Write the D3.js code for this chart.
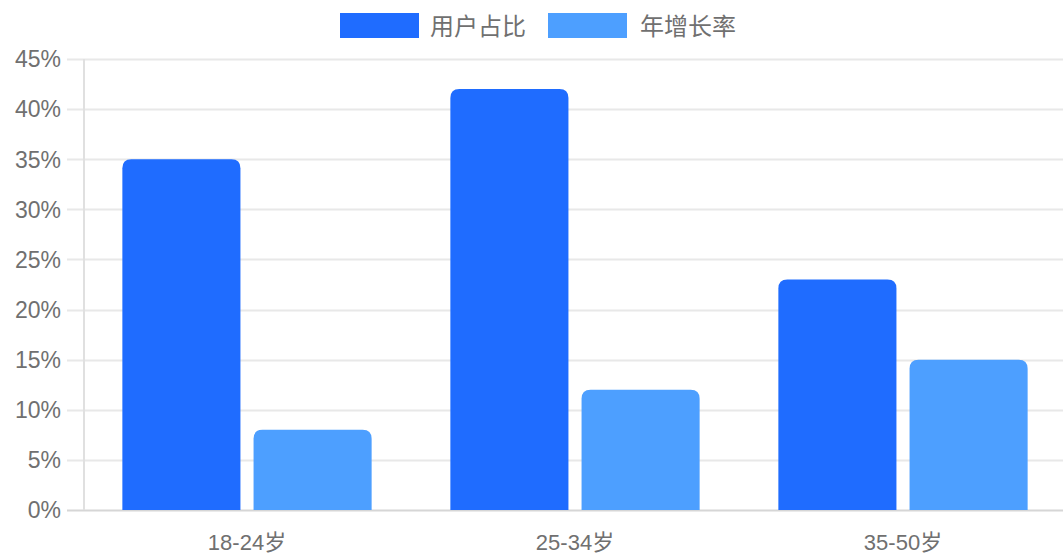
<!DOCTYPE html>
<html>
<head>
<meta charset="utf-8">
<script src="https://cdn.jsdelivr.net/npm/d3@7"></script>
<style>
  html, body { margin: 0; padding: 0; background: #fff; }
  svg { display: block; font-family: "Liberation Sans", "Noto Sans CJK SC", sans-serif; }
</style>
</head>
<body>
<svg id="chart" width="1063" height="555"></svg>
<script>
// Age groups and the two series (percent)
const categories = ["18-24岁", "25-34岁", "35-50岁"];
const seriesNames = ["用户占比", "年增长率"];
const userShare = [35, 42, 23];
const yearGrowth = [8, 12, 15];
const yTicks = [0, 5, 10, 15, 20, 25, 30, 35, 40, 45];
const colors = ["#1f6cff", "#4d9fff"];

const svg = d3.select("#chart");
const W = 1063, H = 555;
const plotLeft = 83, plotRight = 1067, plotTop = 59, y0 = 510;

const y = d3.scaleLinear().domain([0, 45]).range([y0, plotTop]);
// Each category takes an equal slot; bars fill 80% of it, each bar 90% of its sub-slot
const x = d3.scaleBand().domain(categories).range([plotLeft, plotRight]).padding(0);
const groupW = x.bandwidth() * 0.8;
const xs = d3.scaleBand().domain(seriesNames)
  .range([(x.bandwidth() - groupW) / 2, (x.bandwidth() + groupW) / 2]).padding(0);
const barW = xs.bandwidth() * 0.9;

// Horizontal grid lines with tick stubs on the left
svg.append("g").selectAll("line").data(yTicks).join("line")
  .attr("x1", plotLeft - 16).attr("x2", W)
  .attr("y1", d => Math.round(y(d)) + 0.5).attr("y2", d => Math.round(y(d)) + 0.5)
  .attr("stroke", d => d === 0 ? "#d6d6d6" : "#e8e8e8").attr("stroke-width", 2);
svg.append("line")
  .attr("x1", plotLeft + 1).attr("x2", plotLeft + 1)
  .attr("y1", plotTop).attr("y2", y0)
  .attr("stroke", "#e0e0e0").attr("stroke-width", 2);

// Y tick labels
svg.append("g").selectAll("text").data(yTicks).join("text")
  .attr("x", 61).attr("y", d => y(d)).attr("dy", "0.36em")
  .attr("text-anchor", "end").attr("fill", "#707070").attr("font-size", 23)
  .text(d => d + "%");

// X category labels
svg.append("g").selectAll("text").data(categories).join("text")
  .attr("x", d => x(d) + x.bandwidth() / 2).attr("y", 550)
  .attr("text-anchor", "middle").attr("fill", "#707070").attr("font-size", 22)
  .text(d => d);

// Bars with rounded top corners
function barPath(x0, w, yTop, yBot, r) {
  r = Math.min(r, w / 2, (yBot - yTop));
  return `M${x0},${yBot}V${yTop + r}Q${x0},${yTop} ${x0 + r},${yTop}` +
    `H${x0 + w - r}Q${x0 + w},${yTop} ${x0 + w},${yTop + r}V${yBot}Z`;
}
const rows = categories.map((c, i) => ({ cat: c, vals: [userShare[i], yearGrowth[i]] }));
const groups = svg.append("g").selectAll("g").data(rows).join("g")
  .attr("transform", d => `translate(${x(d.cat)},0)`);
groups.selectAll("path").data(d => d.vals.map((v, j) => ({ v, s: seriesNames[j], j })))
  .join("path")
  .attr("d", d => barPath(xs(d.s) + (xs.bandwidth() - barW) / 2, barW, y(d.v), y0, 9))
  .attr("fill", d => colors[d.j]);

// Legend
const legend = svg.append("g");
const legendItems = [
  { name: seriesNames[0], color: colors[0], bx: 340, tx: 430 },
  { name: seriesNames[1], color: colors[1], bx: 548, tx: 640 }
];
legend.selectAll("rect").data(legendItems).join("rect")
  .attr("x", d => d.bx).attr("y", 13).attr("width", 79).attr("height", 25)
  .attr("fill", d => d.color);
legend.selectAll("text").data(legendItems).join("text")
  .attr("x", d => d.tx).attr("y", 26).attr("dy", "0.36em")
  .attr("fill", "#707070").attr("font-size", 24)
  .text(d => d.name);
</script>
</body>
</html>
